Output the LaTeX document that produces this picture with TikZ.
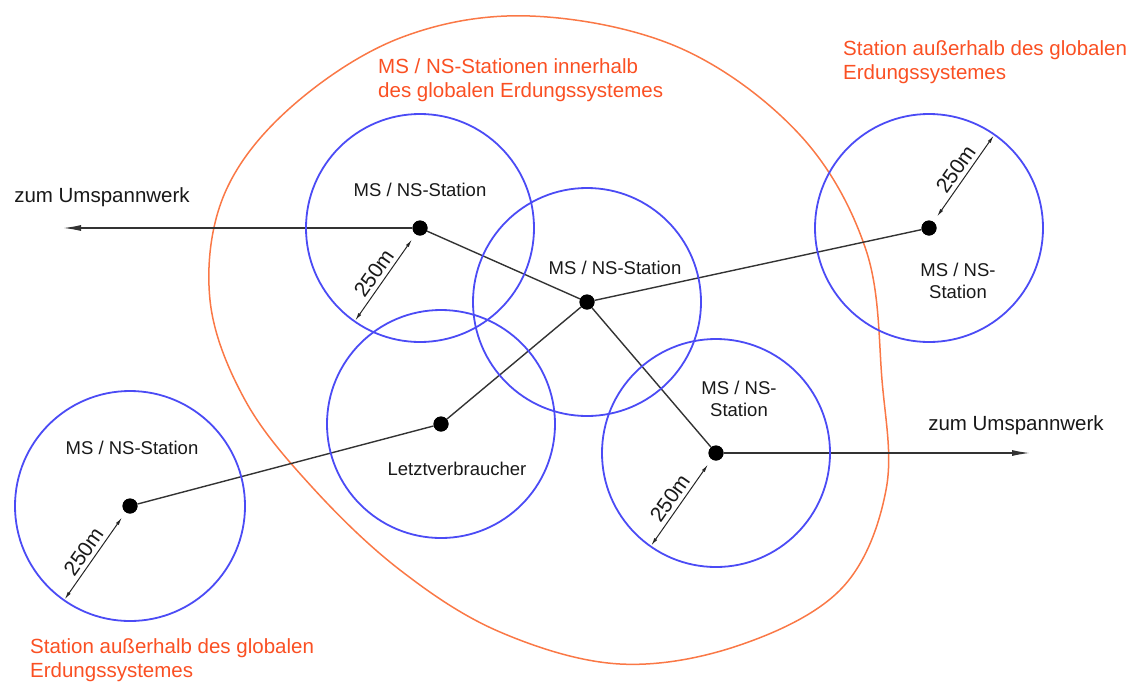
\documentclass[tikz,border=0pt]{standalone}
\usepackage{fontspec}
\setmainfont{Liberation Sans}
\usetikzlibrary{arrows.meta,calc}
\definecolor{zoneblue}{RGB}{75,75,245}
\definecolor{gridorange}{RGB}{250,120,70}
\definecolor{noteorange}{RGB}{250,80,35}
\begin{document}
\begin{tikzpicture}[x=1pt,y=-1pt,
  stationdot/.style={circle,fill=black,inner sep=0pt,minimum size=15pt},
  zone/.style={draw=zoneblue,line width=1.8pt},
  cable/.style={draw=black!80,line width=1.4pt},
  feeder/.style={cable,-{Latex[length=18pt,width=6pt]}},
  dimline/.style={draw=black!85,line width=1pt,{Latex[length=8pt,width=3.5pt]}-{Latex[length=8pt,width=3.5pt]}},
  txt/.style={text=black!90,align=center,inner sep=0pt,font=\fontsize{18.5}{22}\selectfont},
  dimtxt/.style={txt,font=\fontsize{21}{24}\selectfont},
  note/.style={text=noteorange,align=left,inner sep=0pt,anchor=west,font=\fontsize{20.5}{24}\selectfont},
  ]
  \useasboundingbox (0,0) rectangle (1138,686);
  % global earthing area
  \draw[gridorange,line width=1.5pt] plot[smooth cycle,tension=0.6] coordinates {
    (530,16) (680,48) (800,135) (866,250) (882,380) (886,490) (842,588)
    (740,645) (620,664) (500,632) (400,570) (312,487) (245,400) (210,300)
    (224,195) (290,108) (400,38)};
  % stations
  \node[stationdot] (s1) at (420,228) {};
  \node[stationdot] (s2) at (587,302) {};
  \node[stationdot] (s3) at (929,228) {};
  \node[stationdot] (s4) at (441,424) {};
  \node[stationdot] (s5) at (716,453) {};
  \node[stationdot] (s6) at (130,506) {};
  \coordinate (uw1) at (63,228);
  \coordinate (uw2) at (1030,453);
  % cables
  \draw[cable] (s1) -- (s2);
  \draw[cable] (s2) -- (s3);
  \draw[cable] (s2) -- (s4);
  \draw[cable] (s2) -- (s5);
  \draw[cable] (s4) -- (s6);
  \draw[feeder] (s1) -- (uw1);
  \draw[feeder] (s5) -- (uw2);
  % 250m zones
  \draw[zone] (s1) circle (114pt);
  \draw[zone] (s2) circle (114pt);
  \draw[zone] (s3) circle (114pt);
  \draw[zone] (s4) circle (114pt);
  \draw[zone] (s5) circle (114pt);
  \draw[zone] (s6) circle (115pt);
  \node[stationdot] at (s1) {};
  \node[stationdot] at (s2) {};
  \node[stationdot] at (s3) {};
  \node[stationdot] at (s4) {};
  \node[stationdot] at (s5) {};
  \node[stationdot] at (s6) {};
  % radius marks
  \coordinate (e1) at ($(s1)+(125:113)$);
  \coordinate (e3) at ($(s3)+(305:113)$);
  \coordinate (e5) at ($(s5)+(125:113)$);
  \coordinate (e6) at ($(s6)+(125:114)$);
  \draw[dimline] ($(s1)!14pt!(e1)$) -- (e1) node[midway,sloped,above=4pt,dimtxt] {250m};
  \draw[dimline] ($(s3)!14pt!(e3)$) -- (e3) node[midway,sloped,above=4pt,dimtxt] {250m};
  \draw[dimline] ($(s5)!14pt!(e5)$) -- (e5) node[midway,sloped,above=4pt,dimtxt] {250m};
  \draw[dimline] ($(s6)!14pt!(e6)$) -- (e6) node[midway,sloped,above=4pt,dimtxt] {250m};
  % labels
  \node[txt] (t1) at (420,190) {MS / NS-Station};
  \node[txt] (t2) at (615,268) {MS / NS-Station};
  \node[txt] (t3) at (958,281) {MS / NS-\\Station};
  \node[txt] (t5) at (739,399) {MS / NS-\\Station};
  \node[txt] (t4) at (457,469) {Letztverbraucher};
  \node[txt] (t6) at (132,448) {MS / NS-Station};
  \node[txt,font=\fontsize{20.5}{24}\selectfont] (u1) at (102,197) {zum Umspannwerk};
  \node[txt,font=\fontsize{20.5}{24}\selectfont] (u2) at (1016,425) {zum Umspannwerk};
  \node[note] (n1) at (378,80) {MS / NS-Stationen innerhalb\\des globalen Erdungssystemes};
  \node[note] (n2) at (843,62) {Station außerhalb des globalen\\Erdungssystemes};
  \node[note] (n3) at (30,660) {Station außerhalb des globalen\\Erdungssystemes};
\end{tikzpicture}
\end{document}
